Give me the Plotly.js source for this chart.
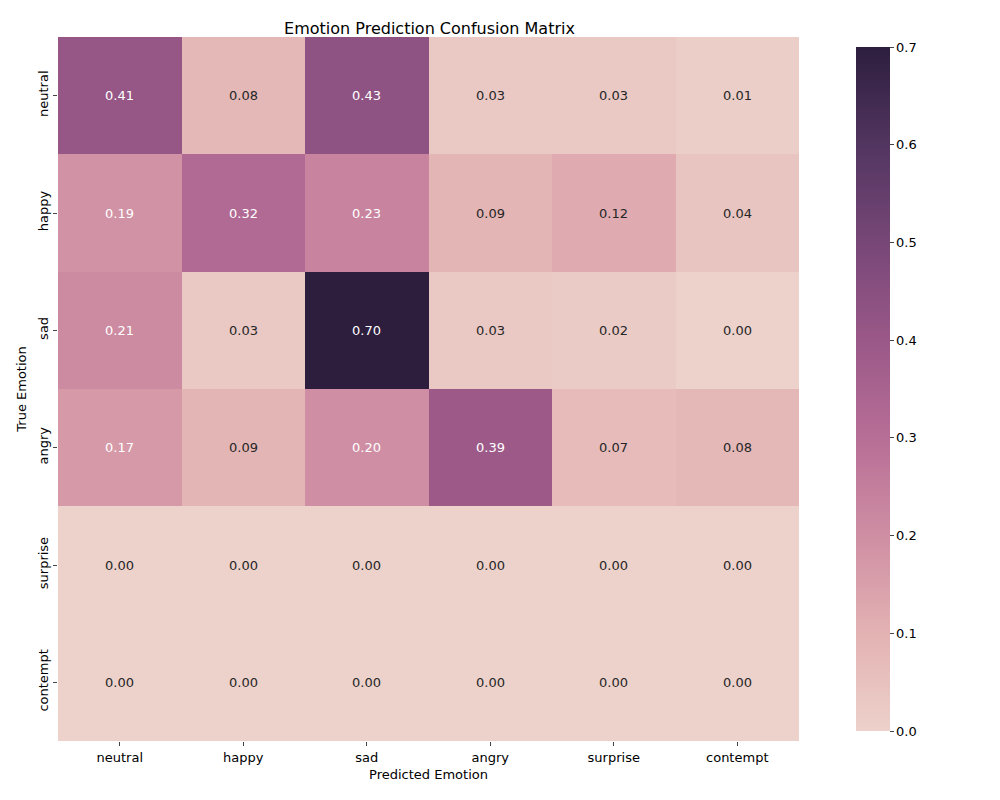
<!DOCTYPE html>
<html>
<head>
<script src="https://cdn.plot.ly/plotly-3.0.1.min.js"></script>
<style>body{margin:0}</style>
</head>
<body>
<div id="chart" style="width:1000px;height:800px"></div>
<script>
const predicted = ["neutral", "happy", "sad", "angry", "surprise", "contempt"];
const trueLabels = ["neutral", "happy", "sad", "angry", "surprise", "contempt"];
const matrix = [
  [0.41, 0.08, 0.43, 0.03, 0.03, 0.01],
  [0.19, 0.32, 0.23, 0.09, 0.12, 0.04],
  [0.21, 0.03, 0.70, 0.03, 0.02, 0.00],
  [0.17, 0.09, 0.20, 0.39, 0.07, 0.08],
  [0.00, 0.00, 0.00, 0.00, 0.00, 0.00],
  [0.00, 0.00, 0.00, 0.00, 0.00, 0.00]
];

// seaborn cubehelix_palette approximation
const scale = [
  [0.0, "#edd1cb"], [0.143, "#e3b2b3"], [0.286, "#cf8ea3"], [0.429, "#b76e96"],
  [0.571, "#9a5888"], [0.714, "#774778"], [0.857, "#523560"], [1.0, "#2d1e3e"]
];

const annotations = [];
matrix.forEach((row, i) => row.forEach((v, j) => {
  annotations.push({
    x: predicted[j], y: trueLabels[i], text: v.toFixed(2), showarrow: false,
    font: { size: 13, color: v >= 0.15 ? "#ffffff" : "#262626" }
  });
}));

Plotly.newPlot("chart", [{
  type: "heatmap", x: predicted, y: trueLabels, z: matrix,
  zmin: 0, zmax: 0.7, colorscale: scale, xgap: 0, ygap: 0,
  colorbar: { x: 1.063, xanchor: "left", thickness: 34, len: 1, y: 0.5, outlinewidth: 0,
    tickvals: [0, 0.1, 0.2, 0.3, 0.4, 0.5, 0.6, 0.7], ticktext: ["0.0","0.1","0.2","0.3","0.4","0.5","0.6","0.7"],
    ticks: "outside", ticklen: 4, tickfont: { size: 13 } }
}], {
  width: 1000, height: 800,
  margin: { l: 58, r: 201, t: 37, b: 59 },
  font: { family: "DejaVu Sans", color: "#000" },
  title: { text: "Emotion Prediction Confusion Matrix", x: 0.4295, xanchor: "center", y: 0.971, font: { size: 16 } },
  xaxis: { title: { text: "Predicted Emotion", font: { size: 13 }, standoff: 6 }, ticks: "outside", ticklen: 4, tickfont: { size: 13 }, showgrid: false, zeroline: false },
  yaxis: { title: { text: "True Emotion", font: { size: 13 }, standoff: 6 }, autorange: "reversed", ticks: "outside", ticklen: 4, tickangle: -90, tickfont: { size: 13 }, showgrid: false, zeroline: false },
  annotations: annotations
}, { displayModeBar: false });
</script>
</body>
</html>
